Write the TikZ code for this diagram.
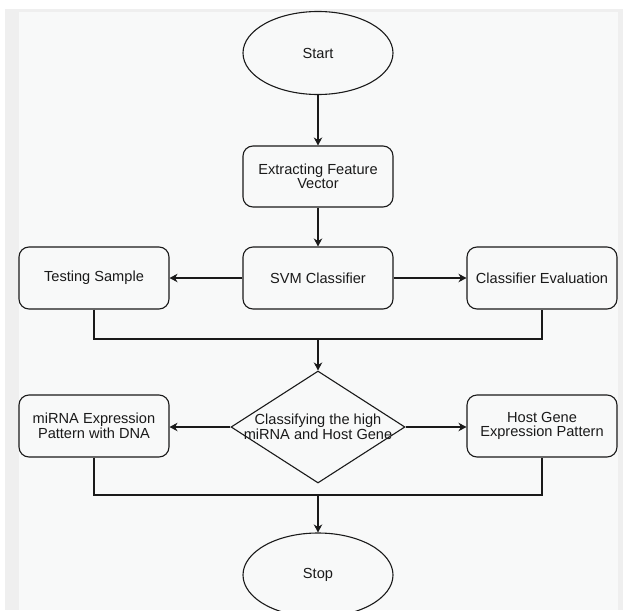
\documentclass[tikz,border=0pt]{standalone}
\usepackage{fontspec}
\setmainfont{Liberation Sans}
\usetikzlibrary{shapes.geometric,arrows.meta}
\definecolor{framegray}{RGB}{239,239,239}
\definecolor{canvas}{RGB}{248,249,249}
\definecolor{ink}{RGB}{26,26,26}
\tikzset{
  every node/.style={font=\fontsize{14.6}{14.5}\selectfont, text=ink},
  procbox/.style={draw=ink, line width=1.1pt, rounded corners=10pt, minimum width=150pt, minimum height=62pt, align=center, inner sep=2pt},
  terminal/.style={draw=ink, line width=1.1pt, ellipse, minimum width=150pt, minimum height=83pt, inner sep=0pt},
  decision/.style={draw=ink, line width=1.1pt, diamond, minimum width=174pt, minimum height=112pt, inner sep=0pt},
  conn/.style={draw=ink, line width=1.1pt},
  arr/.style={conn, -{Stealth[length=8pt,width=8.5pt,inset=2.5pt]}}
}
\begin{document}
\begin{tikzpicture}[x=1pt,y=-1pt]
\useasboundingbox (0,0) rectangle (623,610);
\clip (0,0) rectangle (623,610);
\fill[white] (0,0) rectangle (623,610);
\fill[framegray] (5,9) rectangle (623,610);
\fill[canvas] (19,12) rectangle (618,610);

\node[terminal] (start) at (318,53) {Start};
\node[procbox, minimum height=61pt] (efv) at (318,176.5) {Extracting Feature\\Vector};
\node[procbox] (svm) at (318,278) {SVM Classifier};
\node[procbox] (ts) at (94,278) {Testing Sample};
\node[procbox] (ce) at (542,278) {Classifier Evaluation};
\node[decision] (dia) at (318,427) {};
\node[align=center, inner sep=0pt] (diatext) at (318,427) {Classifying the high\\miRNA and Host Gene};
\node[procbox] (mirna) at (94,426) {miRNA Expression\\Pattern with DNA};
\node[procbox] (host) at (542,426) {Host Gene\\Expression Pattern};
\node[terminal, minimum height=84pt] (stop) at (318,575) {Stop};

\coordinate (m1) at (318,339);
\coordinate (m2) at (318,495);

\draw[arr] (start) -- (efv);
\draw[arr] (efv) -- (svm);
\draw[arr] (svm) -- (ts);
\draw[arr] (svm) -- (ce);
\draw[conn] (ts.south) |- (m1) -| (ce.south);
\draw[arr] (m1) -- (dia.north);
\draw[arr] (dia.west) -- (mirna.east |- dia.west);
\draw[arr] (dia.east) -- (host.west |- dia.east);
\draw[conn] (mirna.south) |- (m2) -| (host.south);
\draw[arr] (m2) -- (stop.north);
\end{tikzpicture}
\end{document}
